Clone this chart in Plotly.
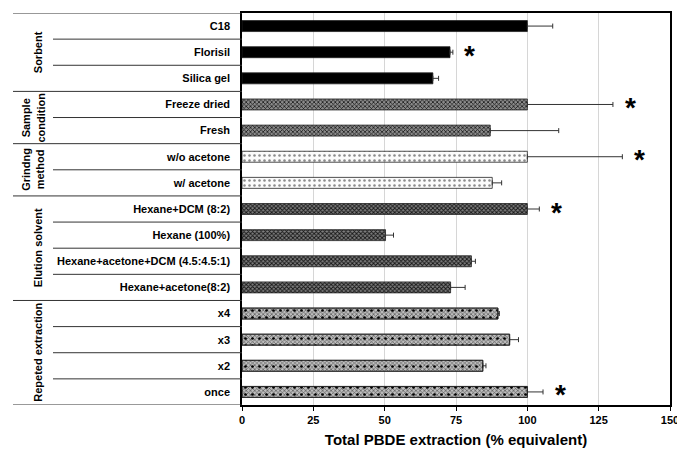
import plotly.graph_objects as go

# ---- data (top to bottom) ----
categories = ["C18", "Florisil", "Silica gel",
              "Freeze dried", "Fresh",
              "w/o acetone", "w/ acetone",
              "Hexane+DCM (8:2)", "Hexane (100%)", "Hexane+acetone+DCM (4.5:4.5:1)", "Hexane+acetone(8:2)",
              "x4", "x3", "x2", "once"]
values = [100, 72.9, 66.9,
          100, 87.0,
          100, 87.7,
          100, 50.3, 80.4, 73.1,
          89.7, 93.8, 84.4, 100]
errors = [8.9, 1.0, 2.0,
          30.0, 24.0,
          33.3, 3.3,
          4.2, 2.8, 1.4, 5.1,
          0.5, 3.1, 1.1, 5.5]
significant = [False, True, False,
               True, False,
               True, False,
               True, False, False, False,
               False, False, False, True]
groups = ["Sorbent", "Sample<br>condition", "Grindng<br>method", "Elution solvent", "Repeted extraction"]
group_sizes = [3, 2, 2, 4, 4]
x_ticks = [0, 25, 50, 75, 100, 125, 150]
x_title = "Total PBDE extraction (% equivalent)"

# ---- styles per group ----
checker_dark = dict(shape="x", size=3, solidity=0.5, fgcolor="#151515", bgcolor="#7e7e7e", fillmode="replace")
group_styles = [
    dict(color="#000000", pattern=dict(shape="")),
    dict(color="#5a5a5a", pattern=dict(shape="x", size=3, solidity=0.45, fgcolor="#1a1a1a", bgcolor="#8a8a8a", fillmode="replace")),
    dict(color="#f7f7f7", pattern=dict(shape=".", size=5, solidity=0.2, fgcolor="#8c8c8c", bgcolor="#fbfbfb", fillmode="replace")),
    dict(color="#4a4a4a", pattern=checker_dark),
    dict(color="#a0a0a0", pattern=dict(shape="x", size=3, solidity=0.4, fgcolor="#555555", bgcolor="#bdbdbd", fillmode="replace")),
]
# overlay of sparse black dots on the last group
overlay_dots = {4: dict(shape=".", size=7, solidity=0.12, fgcolor="#000000", fgopacity=1, fillmode="overlay")}

FONT = "Liberation Sans, Arial, sans-serif"
fig = go.Figure()

start = 0
for g, n in enumerate(group_sizes):
    idx = list(range(start, start + n))
    st = group_styles[g]
    fig.add_trace(go.Bar(
        y=idx, x=[values[i] for i in idx], orientation="h",
        width=0.42,
        marker=dict(color=st["color"], pattern=st["pattern"],
                    line=dict(color="#222222", width=0.8)),
        error_x=dict(type="data", array=[errors[i] for i in idx], symmetric=False,
                     arrayminus=[0] * n, color="#333333", thickness=1, width=2.5),
        showlegend=False, hoverinfo="x+y",
    ))
    if g in overlay_dots:
        fig.add_trace(go.Bar(
            y=idx, x=[values[i] for i in idx], orientation="h",
            width=0.42,
            marker=dict(color="rgba(255,255,255,0)", pattern=overlay_dots[g],
                        line=dict(color="#222222", width=0.8)),
            showlegend=False, hoverinfo="skip",
        ))
    start += n

# significance stars
for i, s in enumerate(significant):
    if s:
        fig.add_annotation(x=values[i] + errors[i] + 6, y=i, xref="x", yref="y",
                           text="*", showarrow=False, xanchor="center", yanchor="middle",
                           yshift=-3, font=dict(family=FONT, size=28, color="black", weight="bold"))

# page body has an 8px margin; place figure so plot sits at the same screen spot
OFF = 8
W, H = 685 - OFF, 460 - OFF
ML, MR, MT, MB = 242 - OFF, 15, 11 - OFF, 55
PW = W - ML - MR

# left table lines and group labels
LEFT_FULL = (13 - 242) / PW
LEFT_INNER = (53 - 242) / PW
shapes = []
boundaries = {-0.5}
pos = -0.5
for n in group_sizes:
    pos += n
    boundaries.add(pos)
for k in range(len(categories) + 1):
    yv = k - 0.5
    x0 = LEFT_FULL if yv in boundaries else LEFT_INNER
    shapes.append(dict(type="line", xref="paper", yref="y", x0=x0, x1=0, y0=yv, y1=yv,
                       line=dict(color="#333333", width=1)))
fig.update_layout(shapes=shapes)

start = 0
for g, n in enumerate(group_sizes):
    center = start + (n - 1) / 2
    two = "<br>" in groups[g]
    fig.add_annotation(x=(33 - 242) / PW if two else (38 - 242) / PW, y=center,
                       xref="paper", yref="y", text=groups[g], textangle=-90,
                       showarrow=False, xanchor="center", yanchor="middle",
                       font=dict(family=FONT, size=11, color="black", weight="bold"))
    start += n

fig.update_layout(
    width=W, height=H,
    margin=dict(l=ML, r=MR, t=MT, b=MB),
    paper_bgcolor="white", plot_bgcolor="white",
    barmode="overlay",
    font=dict(family=FONT, color="black"),
    xaxis=dict(range=[0, 150], tickvals=x_ticks, ticks="outside", ticklen=4, tickwidth=1,
               tickcolor="black", showline=True, linecolor="black", linewidth=1.5, mirror=True,
               showgrid=True, gridcolor="#d6d6d6", gridwidth=1, zeroline=False,
               tickfont=dict(family=FONT, size=11, color="black", weight="bold"),
               title=dict(text=x_title, standoff=10,
                          font=dict(family=FONT, size=15, color="black", weight="bold"))),
    yaxis=dict(range=[len(categories) - 0.5, -0.5], tickvals=list(range(len(categories))),
               ticktext=categories, ticks="", showline=True, linecolor="black", linewidth=1.5,
               mirror=True, showgrid=False, zeroline=False, ticklabelstandoff=8,
               tickfont=dict(family=FONT, size=11, color="black", weight="bold")),
)

fig.write_html("out.html")
